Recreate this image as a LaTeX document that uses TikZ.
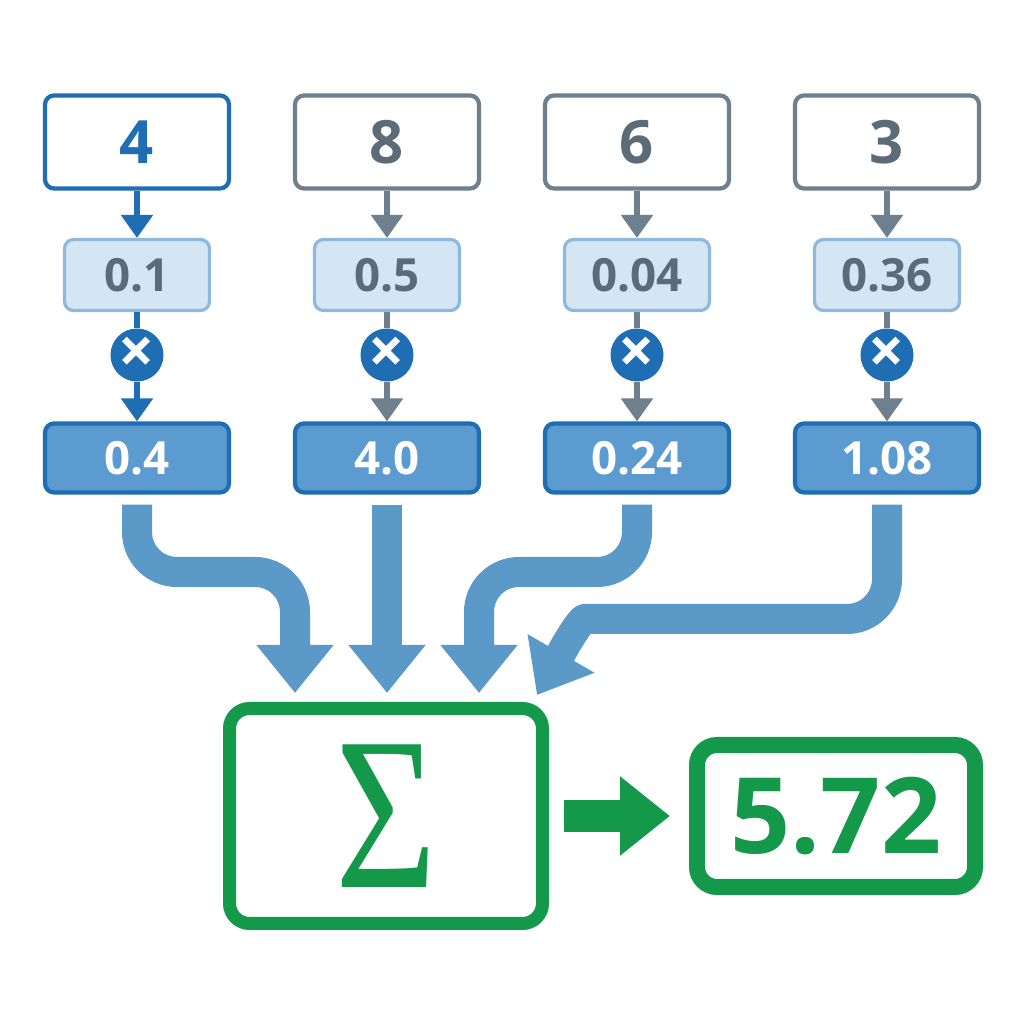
\documentclass[tikz,border=0pt]{standalone}
\usepackage{fontspec}
\setmainfont{Open Sans}
\newfontfamily\sigmafont{Liberation Serif}
\usetikzlibrary{positioning,arrows.meta,calc}
\definecolor{deepblue}{HTML}{1F6DB3}
\definecolor{slategray}{HTML}{6E7F8D}
\definecolor{slatetext}{HTML}{5C6B78}
\definecolor{weightfill}{HTML}{D4E5F4}
\definecolor{weightedge}{HTML}{8DB9DD}
\definecolor{prodfill}{HTML}{5B9BCF}
\definecolor{flowblue}{HTML}{5B9AC8}
\definecolor{sumgreen}{HTML}{14984A}
\tikzset{
  inputbox/.style={draw=slategray, line width=1.2pt, rounded corners=0.09cm, fill=white, minimum width=1.84cm, minimum height=0.93cm, inner sep=1pt, text=slatetext, font=\fontsize{17}{17}\selectfont\bfseries},
  weightbox/.style={draw=weightedge, line width=0.9pt, rounded corners=0.09cm, fill=weightfill, minimum width=1.45cm, minimum height=0.71cm, inner sep=1pt, text=slatetext, font=\fontsize{13}{13}\selectfont\bfseries},
  prodbox/.style={draw=deepblue, line width=1.2pt, rounded corners=0.09cm, fill=prodfill, minimum width=1.84cm, minimum height=0.69cm, inner sep=1pt, text=white, font=\fontsize{13}{13}\selectfont\bfseries},
  timesnode/.style={circle, fill=deepblue, minimum size=0.53cm, inner sep=0pt, text=white, font=\fontsize{18}{18}\selectfont\bfseries},
  smallarrow/.style={-{Triangle[length=2.3mm, width=3.1mm]}, line width=1.5pt, slategray},
  smallline/.style={line width=1.5pt, slategray},
  bigarrow/.style={-{Triangle[length=4.8mm, width=7.4mm]}, line width=3mm, flowblue, rounded corners=4mm, shorten <=0.1cm},
  sumbox/.style={draw=sumgreen, line width=0.13cm, rounded corners=0.2cm, fill=white, minimum width=3.13cm, minimum height=2.15cm, text=sumgreen},
  resultbox/.style={draw=sumgreen, line width=0.16cm, rounded corners=0.2cm, fill=white, minimum width=2.78cm, minimum height=1.42cm, text=sumgreen, font=\fontsize{30}{30}\selectfont\bfseries},
  greenarrow/.style={-{Triangle[length=5mm, width=7.6mm]}, line width=3.2mm, sumgreen, shorten <=0.15cm, shorten >=0.19cm}
}

\begin{document}
\begin{tikzpicture}
      \fill[white] (0,0) rectangle (10.24,10.24);
      \useasboundingbox (0,0) rectangle (10.24,10.24);
      % inputs
      \node[inputbox, draw=deepblue, text=deepblue] (x1) at (1.37,8.82) {4};
      \node[inputbox] (x2) at (3.87,8.82) {8};
      \node[inputbox] (x3) at (6.37,8.82) {6};
      \node[inputbox] (x4) at (8.87,8.82) {3};
      % weights
      \node[weightbox] (w1) at (1.37,7.49) {0.1};
      \node[weightbox] (w2) at (3.87,7.49) {0.5};
      \node[weightbox] (w3) at (6.37,7.49) {0.04};
      \node[weightbox] (w4) at (8.87,7.49) {0.36};
      % multiply
      \node[timesnode] (m1) at (1.37,6.69) {×};
      \node[timesnode] (m2) at (3.87,6.69) {×};
      \node[timesnode] (m3) at (6.37,6.69) {×};
      \node[timesnode] (m4) at (8.87,6.69) {×};
      % products
      \node[prodbox] (p1) at (1.37,5.66) {0.4};
      \node[prodbox] (p2) at (3.87,5.66) {4.0};
      \node[prodbox] (p3) at (6.37,5.66) {0.24};
      \node[prodbox] (p4) at (8.87,5.66) {1.08};
      \draw[smallarrow, deepblue] (x1) -- (w1);
      \draw[smallline, deepblue] (w1) -- (m1);
      \draw[smallarrow, deepblue] (m1) -- (p1);
      \draw[smallarrow] (x2) -- (w2);
      \draw[smallline] (w2) -- (m2);
      \draw[smallarrow] (m2) -- (p2);
      \draw[smallarrow] (x3) -- (w3);
      \draw[smallline] (w3) -- (m3);
      \draw[smallarrow] (m3) -- (p3);
      \draw[smallarrow] (x4) -- (w4);
      \draw[smallline] (w4) -- (m4);
      \draw[smallarrow] (m4) -- (p4);
      % sum and result
      \node[sumbox] (sum) at (3.86,2.08) {\fontsize{62}{62}\selectfont\scalebox{0.8}[1]{\sigmafont Σ}};
      \node[resultbox] (res) at (8.36,2.08) {5.72};
      \coordinate (t1) at (2.95,3.31);
      \coordinate (t2) at (3.87,3.31);
      \coordinate (t3) at (4.79,3.31);
      \coordinate (t4) at (5.37,3.29);
      \draw[bigarrow] (p1.south) -- (1.37,4.52) -- (2.95,4.52) -- (t1);
      \draw[bigarrow] (p2.south) -- (t2);
      \draw[bigarrow] (p3.south) -- (6.37,4.52) -- (4.79,4.52) -- (t3);
      \draw[bigarrow] (p4.south) -- (8.87,4.05) -- (6.25,4.05) to[out=180, in=60] (t4);
      \draw[greenarrow] (sum.east) -- (res.west);
    \end{tikzpicture}
\end{document}
